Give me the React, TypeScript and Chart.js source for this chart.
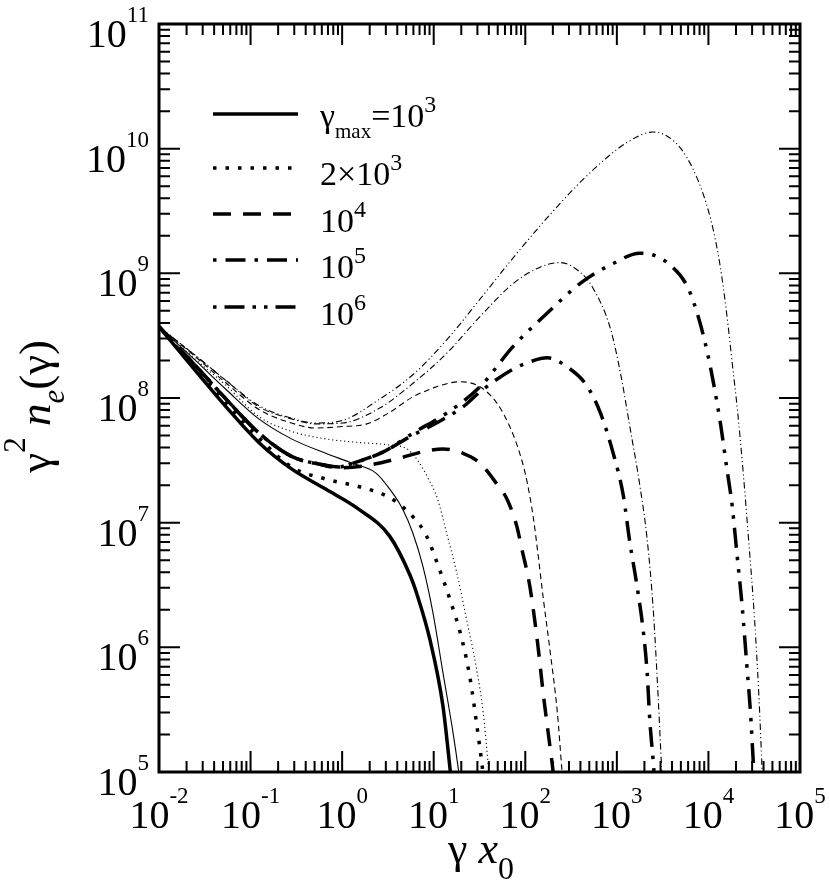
import { useEffect, useRef } from "react";
import { Chart, registerables } from "chart.js";

Chart.register(...registerables);

const W = 830;
const H = 882;
const SERIF = '"Liberation Serif", "Times New Roman", Times, serif';

// axis decades (tick labels are 10^exp)
const X_EXPONENTS = [-2, -1, 0, 1, 2, 3, 4, 5];
const Y_EXPONENTS = [5, 6, 7, 8, 9, 10, 11];

// gamma_max = 1e3
const X_SOLID = [0.01, 0.025, 0.054, 0.123, 0.28, 0.66, 1.5, 3.3, 5.5, 6.6, 9.1, 12.6, 15.1, 16];
const Y_SOLID = [3.73e8, 1.66e8, 8.5e7, 4.4e7, 2.7e7, 1.86e7, 1.29e7, 7.8e6, 3.8e6, 2.63e6, 1.15e6, 3.4e5, 1.05e5, 7e4];
const X_SOLID_THIN = [0.01, 0.025, 0.054, 0.123, 0.28, 0.66, 1.29, 2.34, 3.31, 4.57, 5.9, 7.6, 9.8, 12.6, 16.2, 18.6, 19.5];
const Y_SOLID_THIN = [3.73e8, 2.0e8, 1.17e8, 6.8e7, 4.7e7, 3.6e7, 3.0e7, 2.5e7, 1.86e7, 1.29e7, 8.3e6, 4.5e6, 1.9e6, 6.3e5, 2.1e5, 1.05e5, 8e4];

// gamma_max = 2e3
const X_DOT = [0.01, 0.025, 0.054, 0.123, 0.28, 0.66, 1.51, 3.16, 3.98, 5.9, 8.3, 11.2, 15.1, 20.4, 25.1, 29.5, 33.9, 35.5];
const Y_DOT = [3.73e8, 1.74e8, 9.1e7, 4.8e7, 2.8e7, 2.24e7, 1.95e7, 1.62e7, 1.45e7, 1.12e7, 7.9e6, 4.5e6, 2.4e6, 1.15e6, 5.5e5, 2.4e5, 1.1e5, 8e4];
const X_DOT_THIN = [0.01, 0.025, 0.054, 0.123, 0.28, 0.66, 1.51, 3.24, 5.13, 6.6, 8.5, 11, 13.8, 17.8, 22.9, 29.5, 34.7, 39.8, 41.7];
const Y_DOT_THIN = [3.73e8, 2.04e8, 1.26e8, 7.1e7, 5.4e7, 4.7e7, 4.4e7, 4.2e7, 3.9e7, 3.2e7, 2.34e7, 1.55e7, 8.3e6, 4.0e6, 1.66e6, 6.6e5, 3.0e5, 1.05e5, 7e4];

// gamma_max = 1e4
const X_DASH = [0.01, 0.025, 0.054, 0.123, 0.28, 0.56, 0.93, 2.0, 4.27, 7.6, 12.6, 20.9, 32, 49, 63, 81, 91, 112, 135, 158, 186, 200, 209];
const Y_DASH = [3.73e8, 1.82e8, 9.8e7, 5.25e7, 3.4e7, 2.95e7, 2.75e7, 2.9e7, 3.3e7, 3.7e7, 3.9e7, 3.6e7, 3.0e7, 2.04e7, 1.55e7, 9.3e6, 6.3e6, 3.1e6, 1.15e6, 4.1e5, 1.6e5, 1.05e5, 7.6e4];
const X_DASH_THIN = [0.01, 0.025, 0.054, 0.123, 0.28, 0.51, 1.0, 1.86, 3.24, 5.9, 9.8, 11.7, 19.5, 32, 49, 67.6, 87, 105, 123, 135, 158, 186, 224, 251, 263];
const Y_DASH_THIN = [3.73e8, 2.14e8, 1.32e8, 8.1e7, 6.3e7, 5.75e7, 5.9e7, 6.2e7, 7.6e7, 1.02e8, 1.2e8, 1.26e8, 1.35e8, 1.23e8, 9.1e7, 5.9e7, 3.6e7, 2.1e7, 1.07e7, 6.3e6, 2.4e6, 9.5e5, 3.0e5, 1.05e5, 7e4];

// gamma_max = 1e5
const X_DASHDOT = [0.01, 0.025, 0.054, 0.123, 0.28, 0.56, 0.93, 1.32, 2.82, 5.5, 10.7, 20.9, 32, 73, 112, 174, 285, 468, 661, 912, 1175, 1380, 1660, 1950, 2140, 2290, 2510, 2630];
const Y_DASHDOT = [3.73e8, 1.82e8, 9.8e7, 5.25e7, 3.4e7, 2.95e7, 2.8e7, 3.0e7, 3.7e7, 4.9e7, 6.3e7, 8.5e7, 1.12e8, 1.7e8, 1.95e8, 2.1e8, 1.78e8, 1.26e8, 7.6e7, 3.6e7, 1.66e7, 7.1e6, 3.1e6, 1.32e6, 6.3e5, 2.6e5, 1.15e5, 7e4];
const X_DASHDOT_THIN = [0.01, 0.025, 0.054, 0.123, 0.28, 0.51, 1.0, 2.57, 6.0, 14, 32, 74, 145, 240, 398, 550, 851, 1120, 1380, 1780, 2140, 2510, 2820, 3090, 3240];
const Y_DASHDOT_THIN = [3.73e8, 2.19e8, 1.38e8, 8.5e7, 6.8e7, 6.2e7, 6.3e7, 8.3e7, 1.32e8, 2.3e8, 4.5e8, 8.3e8, 1.12e9, 1.22e9, 1.02e9, 7.6e8, 3.6e8, 1.45e8, 6.0e7, 2.0e7, 7.4e6, 1.9e6, 4.1e5, 1.05e5, 6.3e4];

// gamma_max = 1e6
const X_DASHDOTDOT = [0.01, 0.025, 0.054, 0.123, 0.28, 0.56, 0.93, 1.32, 2.82, 6.0, 14, 32, 73, 174, 398, 912, 1780, 2450, 3800, 5900, 8100, 10500, 13500, 15800, 18200, 20400, 23400, 26300, 28800, 30900, 32400];
const Y_DASHDOTDOT = [3.73e8, 1.82e8, 9.8e7, 5.25e7, 3.4e7, 2.95e7, 2.8e7, 3.0e7, 3.7e7, 5.25e7, 7.6e7, 1.23e8, 2.57e8, 4.8e8, 8.3e8, 1.2e9, 1.45e9, 1.41e9, 1.17e9, 7.8e8, 4.0e8, 1.78e8, 6.3e7, 2.8e7, 1.35e7, 5.8e6, 2.1e6, 7.1e5, 3.0e5, 1.2e5, 7e4];
const X_DASHDOTDOT_THIN = [0.01, 0.025, 0.054, 0.123, 0.28, 0.51, 1.0, 2.57, 6.0, 14, 32, 73, 145, 285, 550, 1290, 2480, 3550, 5010, 6760, 8910, 11200, 13500, 15800, 18200, 20900, 24000, 27500, 31600, 35500, 38900];
const Y_DASHDOTDOT_THIN = [3.73e8, 2.19e8, 1.38e8, 8.7e7, 6.9e7, 6.3e7, 6.6e7, 9.8e7, 1.55e8, 2.95e8, 6.2e8, 1.32e9, 2.4e9, 4.17e9, 6.76e9, 1.12e10, 1.36e10, 1.26e10, 1.0e10, 6.9e9, 4.17e9, 2.29e9, 1.12e9, 4.8e8, 1.9e8, 7.6e7, 2.5e7, 7.2e6, 1.86e6, 4.2e5, 8.9e4];

type Run = { t: string; k?: "sup" | "sub"; i?: boolean };

const LEGEND_LABELS: Run[][] = [
  [{ t: "γ" }, { t: "max", k: "sub" }, { t: "=10" }, { t: "3", k: "sup" }],
  [{ t: "2×10" }, { t: "3", k: "sup" }],
  [{ t: "10" }, { t: "4", k: "sup" }],
  [{ t: "10" }, { t: "5", k: "sup" }],
  [{ t: "10" }, { t: "6", k: "sup" }],
];
const X_TITLE: Run[] = [{ t: "γ " }, { t: "x", i: true }, { t: "0", k: "sub" }];
const Y_TITLE: Run[] = [{ t: "γ" }, { t: "2", k: "sup" }, { t: " " }, { t: "n", i: true }, { t: "e", k: "sub", i: true }, { t: "(γ)" }];

const THICK = 3.5;
const THIN = 1.1;
const PATTERNS = [[], [3.5, 9], [18, 12], [20, 9, 3.5, 9], [20, 9, 3.5, 9, 3.5, 9]];
const LEGEND_PATTERNS = [[], [3.5, 9], [18, 12], [3.5, 9, 20, 9], [3.5, 8, 20, 8, 3.5, 8]];
const thinDash = (p: number[]) => p.map((v) => v * 0.32);

type Sizes = { main: number; sup: number; sub: number; rise: number; drop: number };
const TICK_SIZES: Sizes = { main: 40, sup: 23, sub: 23, rise: 25, drop: 10 };
const LEGEND_SIZES: Sizes = { main: 34, sup: 24, sub: 21, rise: 15, drop: 11 };
const XTITLE_SIZES: Sizes = { main: 44, sup: 31, sub: 32, rise: 24, drop: 16 };
const YTITLE_SIZES: Sizes = { main: 45, sup: 31, sub: 31, rise: 25, drop: 14 };

function fontFor(r: Run, s: Sizes) {
  const size = r.k === "sup" ? s.sup : r.k === "sub" ? s.sub : s.main;
  return `${r.i ? "italic " : ""}${size}px ${SERIF}`;
}

function runsWidth(ctx: CanvasRenderingContext2D, runs: Run[], s: Sizes) {
  let w = 0;
  for (const r of runs) {
    ctx.font = fontFor(r, s);
    w += ctx.measureText(r.t).width;
  }
  return w;
}

function drawRuns(ctx: CanvasRenderingContext2D, runs: Run[], x: number, y: number, s: Sizes) {
  let cx = x;
  for (const r of runs) {
    ctx.font = fontFor(r, s);
    const dy = r.k === "sup" ? -s.rise : r.k === "sub" ? s.drop : 0;
    ctx.fillText(r.t, cx, y + dy);
    cx += ctx.measureText(r.t).width;
  }
}

const expRuns = (e: number): Run[] => [{ t: "10" }, { t: String(e), k: "sup" }];

const framePlugin = {
  id: "frame",
  afterDatasetsDraw(chart: any) {
    const { ctx, chartArea: a, scales } = chart;
    const xs = scales.x;
    const ys = scales.y;
    ctx.save();
    ctx.strokeStyle = "#000";
    ctx.fillStyle = "#000";
    ctx.textBaseline = "alphabetic";

    // ticks, inward on all four sides
    ctx.lineWidth = 2;
    ctx.beginPath();
    for (let i = 0; i < X_EXPONENTS.length; i++) {
      for (let k = 1; k <= 9; k++) {
        if (i === X_EXPONENTS.length - 1 && k > 1) break;
        const px = xs.getPixelForValue(k * Math.pow(10, X_EXPONENTS[i]));
        const len = k === 1 ? 21 : 11;
        ctx.moveTo(px, a.bottom);
        ctx.lineTo(px, a.bottom - len);
        ctx.moveTo(px, a.top);
        ctx.lineTo(px, a.top + len);
      }
    }
    for (let i = 0; i < Y_EXPONENTS.length; i++) {
      for (let k = 1; k <= 9; k++) {
        if (i === Y_EXPONENTS.length - 1 && k > 1) break;
        const py = ys.getPixelForValue(k * Math.pow(10, Y_EXPONENTS[i]));
        const len = k === 1 ? 21 : 11;
        ctx.moveTo(a.left, py);
        ctx.lineTo(a.left + len, py);
        ctx.moveTo(a.right, py);
        ctx.lineTo(a.right - len, py);
      }
    }
    ctx.stroke();

    ctx.lineWidth = 3;
    ctx.strokeRect(a.left, a.top, a.right - a.left, a.bottom - a.top);

    // tick labels
    for (const e of X_EXPONENTS) {
      const px = xs.getPixelForValue(Math.pow(10, e));
      const runs = expRuns(e);
      const w = runsWidth(ctx, runs, TICK_SIZES);
      drawRuns(ctx, runs, px - w / 2, a.bottom + 56, TICK_SIZES);
    }
    for (const e of Y_EXPONENTS) {
      const py = ys.getPixelForValue(Math.pow(10, e));
      const runs = expRuns(e);
      const w = runsWidth(ctx, runs, TICK_SIZES);
      drawRuns(ctx, runs, a.left - 10 - w, py + 23, TICK_SIZES);
    }

    // axis titles
    const xw = runsWidth(ctx, X_TITLE, XTITLE_SIZES);
    drawRuns(ctx, X_TITLE, 481 - xw / 2, 863, XTITLE_SIZES);
    const yw = runsWidth(ctx, Y_TITLE, YTITLE_SIZES);
    ctx.save();
    ctx.translate(50, 340 + yw / 2);
    ctx.rotate(-Math.PI / 2);
    drawRuns(ctx, Y_TITLE, -yw / 2, 0, YTITLE_SIZES);
    ctx.restore();

    // legend
    const rowLine = [114, 168, 214, 260, 307];
    const rowText = [127, 185, 232, 278, 325];
    LEGEND_LABELS.forEach((runs, i) => {
      ctx.lineWidth = THICK;
      ctx.lineCap = "butt";
      ctx.setLineDash(LEGEND_PATTERNS[i]);
      ctx.beginPath();
      ctx.moveTo(213, rowLine[i]);
      ctx.lineTo(298, rowLine[i]);
      ctx.stroke();
      ctx.setLineDash([]);
      drawRuns(ctx, runs, 320, rowText[i], LEGEND_SIZES);
    });
    ctx.restore();
  },
};

const zip = (xs: number[], ys: number[]) => xs.map((x, i) => ({ x, y: ys[i] }));

const SERIES: [number[], number[], number][] = [
  [X_SOLID_THIN, Y_SOLID_THIN, 0],
  [X_DOT_THIN, Y_DOT_THIN, 1],
  [X_DASH_THIN, Y_DASH_THIN, 2],
  [X_DASHDOT_THIN, Y_DASHDOT_THIN, 3],
  [X_DASHDOTDOT_THIN, Y_DASHDOTDOT_THIN, 4],
  [X_SOLID, Y_SOLID, 0],
  [X_DOT, Y_DOT, 1],
  [X_DASH, Y_DASH, 2],
  [X_DASHDOT, Y_DASHDOT, 3],
  [X_DASHDOTDOT, Y_DASHDOTDOT, 4],
];

export default function App() {
  const canvasRef = useRef<HTMLCanvasElement>(null);

  useEffect(() => {
    const el = canvasRef.current;
    if (!el) return;
    const datasets = SERIES.map(([xs, ys, p], i) => {
      const thin = i < 5;
      return {
        data: zip(xs, ys),
        borderColor: "#000",
        borderWidth: thin ? THIN : THICK,
        borderDash: thin ? thinDash(PATTERNS[p]) : PATTERNS[p],
        borderCapStyle: "butt" as const,
        pointRadius: 0,
        fill: false,
        cubicInterpolationMode: "monotone" as const,
      };
    });
    const chart = new Chart(el, {
      type: "line",
      data: { datasets },
      options: {
        responsive: false,
        animation: false,
        events: [],
        layout: { padding: { left: 159, right: 30, top: 24, bottom: 110 } },
        plugins: { legend: { display: false }, tooltip: { enabled: false } },
        scales: {
          x: { type: "logarithmic", min: 1e-2, max: 1e5, display: false },
          y: { type: "logarithmic", min: 1e5, max: 1e11, display: false },
        },
      },
      plugins: [framePlugin],
    });
    let alive = true;
    Promise.all([
      document.fonts.load(`40px "Liberation Serif"`),
      document.fonts.load(`italic 40px "Liberation Serif"`),
    ]).then(() => {
      if (alive) chart.draw();
    });
    return () => {
      alive = false;
      chart.destroy();
    };
  }, []);

  return (
    <div style={{ position: "absolute", left: 0, top: 0, width: W, height: H, background: "#fff", fontFamily: SERIF }}>
      <span style={{ position: "absolute", left: -999, top: 0, fontFamily: SERIF }}>γ10</span>
      <span style={{ position: "absolute", left: -999, top: 0, fontFamily: SERIF, fontStyle: "italic" }}>xn</span>
      <canvas ref={canvasRef} width={W} height={H} style={{ display: "block", width: W, height: H }} />
    </div>
  );
}
